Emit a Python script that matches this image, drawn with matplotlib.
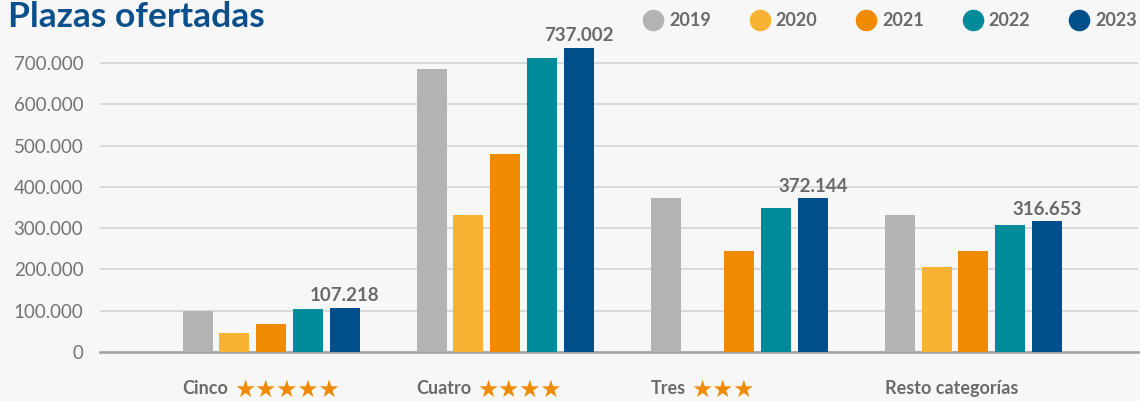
import numpy as np
import matplotlib.pyplot as plt

plt.rcParams['font.family'] = ['Lato', 'DejaVu Sans']

categorias = ['Cinco', 'Cuatro', 'Tres', 'Resto categorías']
estrellas = ['★★★★★', '★★★★', '★★★', '']
anios = ['2019', '2020', '2021', '2022', '2023']
v2019 = [100000, 685000, 373000, 332000]
v2020 = [47000, 332000, 0, 206000]
v2021 = [68500, 479500, 245600, 245600]
v2022 = [104000, 712000, 349000, 307600]
v2023 = [107218, 737002, 372144, 316653]
colores = ['#B3B3B3', '#F9B233', '#F08A00', '#008B9A', '#004F8A']

gris = '#6A6A6A'
fig = plt.figure(figsize=(11.4, 4.01), dpi=100, facecolor='#F7F7F7')
ax = fig.add_axes([100 / 1140, 49 / 401, 1038 / 1140, 322 / 401])
ax.set_facecolor('#F7F7F7')

x = np.arange(len(categorias))
paso = 0.157
ancho = 0.128
series = [v2019, v2020, v2021, v2022, v2023]
for i, (vals, c) in enumerate(zip(series, colores)):
    ax.bar(x + (i - 2) * paso, vals, ancho, color=c, zorder=3)

# etiquetas del 2023
for xi, v in zip(x, v2023):
    ax.text(xi + 2 * paso, v + 9000, f'{v:,}'.replace(',', '.'), ha='center', va='bottom',
            fontsize=13.5, fontweight='bold', color=gris, zorder=4)

ax.set_xlim(-0.731, 3.703)
ax.set_ylim(0, 780000)
ax.set_yticks(np.arange(0, 700001, 100000))
ax.set_yticklabels([f'{int(t):,}'.replace(',', '.') for t in np.arange(0, 700001, 100000)],
                   fontsize=13.5, color='#737373')
ax.tick_params(axis='y', length=0, pad=12)
ax.set_xticks([])
ax.grid(axis='y', color='#D4D4D4', linewidth=1.2, zorder=0)
for s in ['top', 'right', 'left']:
    ax.spines[s].set_visible(False)
ax.spines['bottom'].set_color('#A0A0A0')
ax.spines['bottom'].set_linewidth(1.8)

# etiquetas de categoria con estrellas
for xi, cat, est in zip(x, categorias, estrellas):
    t = ax.annotate(cat, xy=(xi - 2 * paso - ancho / 2, 0), xycoords=('data', 'axes fraction'),
                    xytext=(0, -26), textcoords='offset points', ha='left', va='center',
                    fontsize=13, fontweight='bold', color=gris)
    if est:
        ax.annotate(est, xy=(1, 0.5), xycoords=t, xytext=(4, -1), textcoords='offset points',
                    ha='left', va='center', fontsize=17, color='#F08A00',
                    family='DejaVu Sans')

fig.text(8 / 1140, 1 - 17 / 401, 'Plazas ofertadas', fontsize=25.5, fontweight='bold',
         color='#0B4F8C', ha='left', va='center')

# leyenda
for k, (a, c) in enumerate(zip(anios, colores)):
    xl = 653 + k * 106.5
    fig.lines.append(plt.Line2D([xl / 1140], [1 - 20 / 401], marker='o', markersize=14.5,
                                color=c, linestyle='', transform=fig.transFigure))
    fig.text((xl + 16) / 1140, 1 - 20 / 401, a, fontsize=13, fontweight='bold', color=gris,
             ha='left', va='center')

plt.savefig('out.png', dpi=100, facecolor=fig.get_facecolor())
